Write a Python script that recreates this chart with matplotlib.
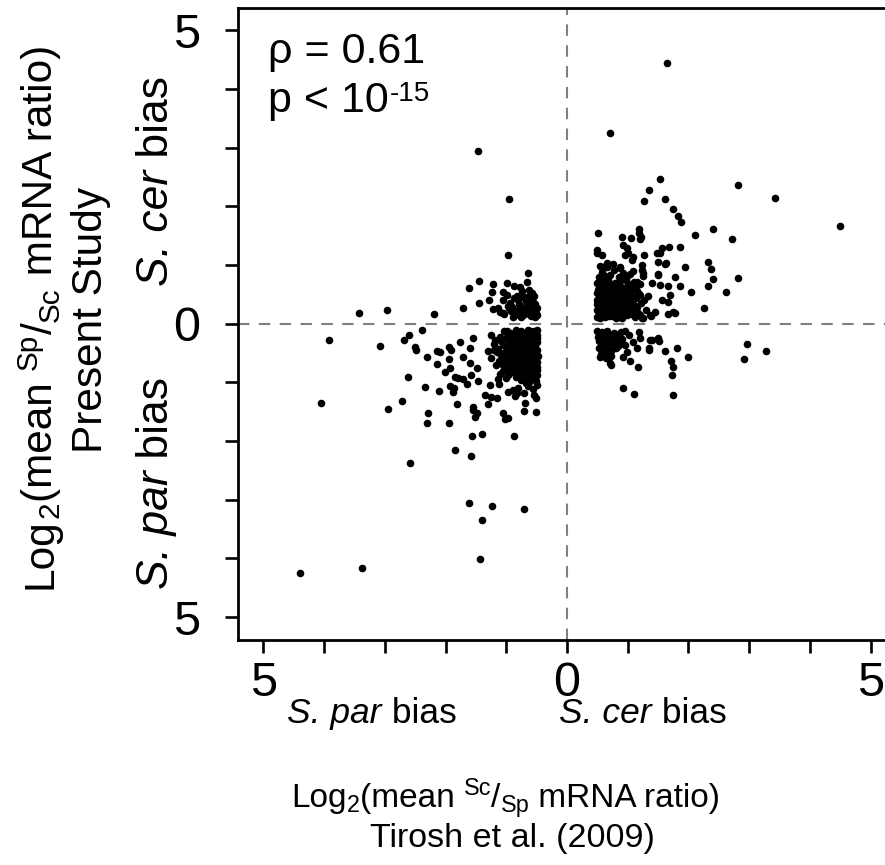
import numpy as np
import matplotlib.pyplot as plt

plt.rcParams['font.family'] = ['Liberation Sans', 'DejaVu Sans']

# (Tirosh log2 ratio, present study log2 ratio), grouped by region
upper_right = [
    (1.65, 4.44), (0.71, 3.25), (1.53, 2.46), (1.35, 2.27), (1.27, 2.09), (1.61, 2.12),
    (2.82, 2.36), (3.43, 2.14), (4.50, 1.66), (1.75, 1.95), (1.83, 1.83), (1.88, 1.73),
    (2.41, 1.61), (2.11, 1.51), (2.72, 1.44), (0.51, 1.54), (1.19, 1.61), (1.19, 1.54),
    (0.91, 1.47), (1.05, 1.46), (1.20, 1.44), (1.68, 1.30), (1.86, 1.30), (1.57, 1.29),
    (1.27, 1.17), (1.53, 1.20), (1.48, 1.20), (2.32, 1.06), (2.37, 0.93), (2.41, 0.76),
    (2.32, 0.64), (2.82, 0.78), (2.62, 0.54), (2.26, 0.26), (2.04, 0.54), (1.94, 0.96),
    (1.61, 1.01), (1.50, 1.06), (1.86, 0.64), (1.78, 0.79), (1.50, 0.84), (1.66, 0.64),
    (1.53, 0.66), (1.78, 0.18), (1.66, 0.16), (1.38, 0.13), (1.25, 0.10), (1.45, 0.20),
    (1.24, 0.91), (1.25, 0.81), (1.00, 1.20), (1.09, 1.13), (0.99, 1.29), (0.87, 0.96),
    (0.66, 1.03), (0.59, 0.96), (0.49, 1.25), (0.58, 1.17), (1.22, 1.47), (0.92, 1.34),
    (0.49, 1.20), (0.96, 1.17), (1.07, 1.08), (1.24, 1.00), (1.63, 1.03), (1.70, 0.49),
    (1.66, 0.37), (1.75, 0.20), (1.57, 0.40), (1.40, 0.69), (1.50, 0.83), (1.25, 0.86),
    (1.15, 0.71), (1.20, 0.49), (1.24, 0.09), (1.37, 0.14),
    (0.50, 0.12), (0.55, 0.15), (0.62, 0.11), (0.68, 0.18), (0.74, 0.13), (0.80, 0.16),
    (0.86, 0.12), (0.93, 0.19), (0.99, 0.14), (1.05, 0.17), (1.12, 0.12), (1.20, 0.15),
    (0.58, 0.20), (0.71, 0.22), (0.90, 0.10),
    (0.49, 0.24), (0.53, 0.30), (0.57, 0.22), (0.61, 0.33), (0.66, 0.27), (0.70, 0.21),
    (0.75, 0.31), (0.79, 0.25), (0.83, 0.34), (0.88, 0.23), (0.92, 0.29), (0.97, 0.26),
    (1.02, 0.32), (1.08, 0.22), (1.15, 0.28), (1.22, 0.35), (1.30, 0.24), (0.64, 0.36),
    (0.86, 0.20), (1.00, 0.38),
    (0.50, 0.40), (0.54, 0.46), (0.59, 0.38), (0.63, 0.49), (0.68, 0.42), (0.72, 0.37),
    (0.77, 0.47), (0.81, 0.41), (0.85, 0.45), (0.90, 0.39), (0.95, 0.48), (1.01, 0.43),
    (1.06, 0.36), (1.13, 0.44), (1.18, 0.50), (1.27, 0.41), (1.33, 0.47), (0.56, 0.52),
    (0.74, 0.55), (0.93, 0.53),
    (0.51, 0.58), (0.55, 0.66), (0.60, 0.61), (0.65, 0.56), (0.70, 0.69), (0.76, 0.62),
    (0.82, 0.57), (0.88, 0.65), (0.94, 0.60), (1.00, 0.68), (1.07, 0.59), (1.14, 0.64),
    (0.58, 0.72), (0.67, 0.75), (0.79, 0.70), (0.97, 0.74), (1.10, 0.71), (1.21, 0.67),
    (0.52, 0.80), (0.57, 0.88), (0.62, 0.77), (0.71, 0.83), (0.78, 0.92), (0.85, 0.79),
    (0.92, 0.86), (0.99, 0.81), (1.08, 0.90), (0.66, 0.97), (0.88, 0.95), (1.03, 0.85),
    (0.55, 0.99), (0.75, 1.02), (0.95, 0.78),
    (0.52, 0.18), (0.56, 0.34), (0.60, 0.45), (0.64, 0.15), (0.68, 0.53), (0.72, 0.29),
    (0.76, 0.42), (0.80, 0.10), (0.84, 0.63), (0.88, 0.49), (0.92, 0.17), (0.96, 0.34),
    (1.00, 0.57), (1.04, 0.24), (1.10, 0.46), (0.49, 0.52), (0.53, 0.63), (0.57, 0.44),
    (0.61, 0.70), (0.65, 0.39), (0.69, 0.13), (0.73, 0.66), (0.77, 0.20), (0.81, 0.51),
    (0.85, 0.28), (0.89, 0.74), (0.94, 0.43), (0.98, 0.22), (1.03, 0.51), (1.11, 0.32),
    (1.17, 0.19), (0.50, 0.33), (0.50, 0.70), (0.54, 0.10), (0.59, 0.27), (0.63, 0.82),
    (0.67, 0.61), (0.72, 0.48), (0.83, 0.14), (0.91, 0.58), (1.05, 0.62), (1.16, 0.55),
]

lower_right = [
    (2.97, -0.35), (3.28, -0.47), (2.92, -0.60), (1.99, -0.57), (1.81, -0.42), (1.61, -0.47),
    (1.71, -0.64), (1.75, -0.74), (1.73, -0.88), (1.75, -1.22), (1.10, -1.20), (0.92, -1.10),
    (1.17, -0.74), (1.04, -0.64), (1.15, -0.42), (1.35, -0.44), (1.52, -0.30), (1.37, -0.28),
    (1.19, -0.14), (1.20, -0.25), (0.71, -0.67), (0.73, -0.70), (0.54, -0.57), (0.63, -0.50),
    (0.92, -0.57), (0.99, -0.49), (1.50, -0.25), (1.40, -0.28), (1.35, -0.42), (0.58, -0.54),
    (0.50, -0.12), (0.54, -0.18), (0.58, -0.14), (0.62, -0.22), (0.66, -0.13), (0.70, -0.19),
    (0.74, -0.25), (0.78, -0.15), (0.82, -0.21), (0.86, -0.17), (0.91, -0.26), (0.96, -0.13),
    (1.02, -0.20), (0.52, -0.29), (0.57, -0.33), (0.63, -0.27), (0.69, -0.36), (0.76, -0.31),
    (0.84, -0.38), (0.53, -0.41), (0.60, -0.45), (0.67, -0.39), (0.73, -0.47), (0.80, -0.42),
    (0.88, -0.35), (0.56, -0.52), (0.64, -0.58), (0.72, -0.55), (0.95, -0.37), (1.08, -0.31),
    (0.51, -0.22), (0.55, -0.25), (0.60, -0.16), (0.65, -0.31), (0.70, -0.42), (0.77, -0.22),
    (0.83, -0.29), (0.89, -0.14), (0.60, -0.37), (0.68, -0.49),
]

upper_left = [
    (-1.47, 2.95), (-0.96, 2.12),
    (-0.97, 1.17), (-0.64, 0.86), (-1.45, 0.72), (-1.61, 0.60), (-1.22, 0.67), (-0.99, 0.69),
    (-0.87, 0.64), (-0.77, 0.62), (-0.66, 0.71), (-1.24, 0.54), (-1.05, 0.54), (-0.58, 0.52),
    (-1.29, 0.40), (-1.45, 0.35), (-1.71, 0.26), (-1.22, 0.25), (-1.05, 0.40), (-0.94, 0.35),
    (-0.81, 0.40), (-0.72, 0.45), (-0.56, 0.37), (-0.49, 0.26), (-0.61, 0.20), (-0.72, 0.14),
    (-0.89, 0.11), (-1.05, 0.18), (-1.14, 0.26), (-0.77, 0.26), (-0.53, 0.11), (-0.99, 0.49),
    (-0.64, 0.31), (-3.43, 0.18), (-2.97, 0.23), (-2.19, 0.16),
    (-0.50, 0.15), (-0.55, 0.22), (-0.60, 0.13), (-0.66, 0.19), (-0.70, 0.28), (-0.75, 0.17),
    (-0.80, 0.24), (-0.86, 0.14), (-0.92, 0.21), (-0.98, 0.30), (-1.03, 0.16), (-1.10, 0.20),
    (-0.52, 0.33), (-0.58, 0.42), (-0.68, 0.38), (-0.83, 0.48), (-0.95, 0.27), (-0.62, 0.57),
    (-0.74, 0.55), (-0.88, 0.44),
    (-0.51, 0.19), (-0.57, 0.29), (-0.63, 0.16), (-0.69, 0.23), (-0.79, 0.33), (-0.85, 0.20),
    (-0.90, 0.29), (-0.54, 0.47), (-0.66, 0.46), (-0.76, 0.12),
]

lower_left = [
    (-3.92, -0.28), (-3.08, -0.38), (-2.69, -0.28), (-2.60, -0.20), (-2.39, -0.11), (-2.50, -0.40),
    (-2.49, -0.45), (-2.62, -0.91), (-4.05, -1.35), (-2.95, -1.46), (-2.72, -1.32), (-2.34, -1.08),
    (-2.31, -0.57), (-2.14, -0.47), (-2.09, -0.49), (-2.14, -0.69), (-2.29, -1.52), (-2.31, -1.70),
    (-2.11, -1.15), (-1.94, -0.60), (-1.94, -0.40), (-1.91, -0.45), (-2.01, -0.83), (-1.93, -0.76),
    (-1.93, -1.06), (-1.94, -1.70), (-1.88, -1.17), (-1.85, -0.91), (-1.81, -1.36), (-1.85, -2.16),
    (-2.59, -2.38), (-1.57, -1.92), (-1.40, -1.88), (-1.58, -2.26), (-0.87, -1.92), (-1.55, -1.47),
    (-1.48, -1.52), (-1.52, -1.59), (-1.30, -1.36), (-1.25, -1.25), (-1.35, -1.22), (-1.15, -1.27),
    (-1.05, -1.52), (-1.02, -1.63), (-0.97, -1.61), (-0.69, -1.35), (-0.51, -1.27), (-0.71, -1.49),
    (-0.51, -1.51), (-1.65, -1.03), (-1.71, -0.95), (-1.80, -0.93), (-1.58, -0.88), (-1.47, -0.98),
    (-1.48, -0.76), (-1.60, -0.67), (-1.71, -0.57), (-1.76, -0.32), (-1.55, -0.25), (-1.60, -0.42),
    (-1.86, -1.10), (-1.27, -1.05), (-1.12, -1.02), (-0.97, -1.17), (-0.82, -1.18), (-4.40, -4.25),
    (-3.38, -4.17), (-1.43, -4.01), (-1.61, -3.06), (-1.24, -3.11), (-0.71, -3.16), (-1.40, -3.35),
    (-1.55, -1.42),
    (-0.49, -0.11), (-0.52, -0.16), (-0.55, -0.12), (-0.59, -0.20), (-0.63, -0.14), (-0.67, -0.23),
    (-0.71, -0.17), (-0.76, -0.12), (-0.81, -0.21), (-0.86, -0.15), (-0.91, -0.24), (-0.97, -0.18),
    (-1.03, -0.13), (-1.10, -0.22), (-1.18, -0.27), (-1.26, -0.19), (-0.50, -0.25), (-0.57, -0.26),
    (-0.65, -0.10), (-0.74, -0.28), (-0.84, -0.11), (-0.95, -0.30),
    (-0.49, -0.32), (-0.53, -0.38), (-0.56, -0.45), (-0.61, -0.35), (-0.64, -0.42), (-0.69, -0.31),
    (-0.73, -0.48), (-0.78, -0.36), (-0.83, -0.44), (-0.88, -0.33), (-0.93, -0.40), (-0.99, -0.47),
    (-1.06, -0.37), (-1.13, -0.43), (-1.21, -0.34), (-1.30, -0.46), (-0.51, -0.49), (-0.60, -0.29),
    (-0.70, -0.40), (-0.80, -0.50), (-0.90, -0.30), (-1.01, -0.39), (-1.16, -0.48),
    (-0.48, -0.55), (-0.52, -0.62), (-0.57, -0.52), (-0.62, -0.69), (-0.66, -0.58), (-0.71, -0.64),
    (-0.75, -0.53), (-0.80, -0.71), (-0.85, -0.60), (-0.91, -0.56), (-0.96, -0.67), (-1.02, -0.62),
    (-1.09, -0.54), (-1.17, -0.70), (-1.25, -0.59), (-0.50, -0.73), (-0.59, -0.74), (-0.68, -0.51),
    (-0.77, -0.66), (-0.87, -0.75), (-0.98, -0.57), (-1.12, -0.63),
    (-0.49, -0.79), (-0.54, -0.86), (-0.60, -0.81), (-0.65, -0.93), (-0.72, -0.84), (-0.78, -0.78),
    (-0.84, -0.91), (-0.90, -0.83), (-0.97, -0.88), (-1.05, -0.80), (-1.14, -0.95), (-0.51, -0.98),
    (-0.63, -0.99), (-0.75, -0.96), (-0.88, -0.77), (-1.00, -0.92),
    (-0.50, -1.04), (-0.56, -1.12), (-0.64, -1.06), (-0.71, -1.18), (-0.80, -1.09), (-0.89, -1.13),
    (-0.55, -1.22), (-0.68, -1.01), (-0.85, -1.24),
    (-0.50, -0.20), (-0.54, -0.29), (-0.58, -0.37), (-0.62, -0.47), (-0.66, -0.33), (-0.70, -0.56),
    (-0.74, -0.21), (-0.78, -0.60), (-0.82, -0.28), (-0.86, -0.52), (-0.90, -0.68), (-0.94, -0.15),
    (-0.98, -0.76), (-1.04, -0.50), (-1.08, -0.29), (-0.52, -0.70), (-0.56, -0.64), (-0.60, -0.57),
    (-0.64, -0.78), (-0.68, -0.88), (-0.72, -0.72), (-0.76, -0.44), (-0.80, -0.86), (-0.84, -0.67),
    (-0.88, -0.58), (-0.92, -0.49), (-0.96, -0.36), (-1.00, -0.25), (-0.49, -0.44), (-0.49, -0.66),
    (-0.50, -0.87), (-0.53, -0.94), (-0.58, -0.90), (-0.61, -0.13), (-0.66, -0.49), (-0.69, -0.72),
    (-0.73, -0.62), (-0.79, -0.26), (-0.83, -0.80), (-0.87, -0.41), (-0.93, -0.62), (-0.99, -0.12),
    (-1.06, -0.70), (-1.11, -0.85), (-1.20, -0.45),
]

rho_text = 'ρ = 0.61'
p_text = 'p < 10'
p_exp = '-15'
par_label = [('S. par', 'italic'), (' bias', 'normal')]
cer_label = [('S. cer', 'italic'), (' bias', 'normal')]
x_title = ['Log', '2', '(mean ', 'Sc', '/', 'Sp', ' mRNA ratio)']
y_title = ['Log', '2', '(mean ', 'Sp', '/', 'Sc', ' mRNA ratio)']
tick_vals = [-5, -4, -3, -2, -1, 0, 1, 2, 3, 4, 5]
tick_labels = ['5', '', '', '', '', '0', '', '', '', '', '5']

pts = np.array(upper_right + lower_right + upper_left + lower_left)

W, H = 885, 865
fig = plt.figure(figsize=(W / 100, H / 100), dpi=100)
ax = fig.add_axes([238 / W, 225 / H, 658 / W, 632 / H])

ax.axhline(0, color='#808080', lw=1.5, ls=(0, (5.5, 4.5)), zorder=1)
ax.axvline(0, color='#808080', lw=1.5, ls=(0, (5.5, 4.5)), zorder=1)
ax.scatter(pts[:, 0], pts[:, 1], s=30, c='black', linewidths=0, zorder=3)

ax.set_xlim(-5.42, 5.42)
ax.set_ylim(-5.39, 5.38)
ax.set_xticks(tick_vals)
ax.set_xticklabels(tick_labels)
ax.set_yticks(tick_vals)
ax.set_yticklabels(tick_labels)
ax.tick_params(axis='both', length=9.4, width=1.9, labelsize=35, color='black')
ax.tick_params(axis='x', pad=6)
ax.tick_params(axis='y', pad=18)
for sp in ax.spines.values():
    sp.set_linewidth(2.0)

ax.text(-4.93, 4.44, rho_text, fontsize=31, va='baseline', ha='left')
pt = ax.text(-4.93, 3.60, p_text, fontsize=31, va='baseline', ha='left')
fig.canvas.draw()
renderer = fig.canvas.get_renderer()
x_end = ax.transData.inverted().transform((pt.get_window_extent(renderer).x1, 0))[0]
ax.text(x_end + 0.02, 3.80, p_exp, fontsize=20, va='baseline', ha='left')


def run_label(cx, base, parts, vertical=False):
    # parts: (text, fontsize, style, baseline shift in px); cx centre along the run,
    # base: baseline position, both in image px from the top-left corner
    texts = [fig.text(0, 0, s, fontsize=fs, fontstyle=st, rotation=90 if vertical else 0,
                      rotation_mode='anchor', ha='left', va='baseline') for s, fs, st, _ in parts]
    sizes = []
    for t in texts:
        bb = t.get_window_extent(renderer)
        sizes.append(bb.height if vertical else bb.width)
    pos = cx - sum(sizes) / 2
    for t, L, p in zip(texts, sizes, parts):
        shift = p[3]
        if vertical:
            t.set_position(((base - shift) / W, pos / H))
        else:
            t.set_position((pos / W, 1 - (base - shift) / H))
        pos += L


def title_parts(words, size):
    small = size * 0.7
    return [(words[0], size, 'normal', 0), (words[1], small, 'normal', -0.22 * size),
            (words[2], size, 'normal', 0), (words[3], small, 'normal', 0.5 * size),
            (words[4], size, 'normal', 0), (words[5], small, 'normal', -0.22 * size),
            (words[6], size, 'normal', 0)]


run_label(372, 723, [(s, 25.5, st, 0) for s, st in par_label])
run_label(643, 723, [(s, 25.5, st, 0) for s, st in cer_label])
run_label(H - 181, 168, [(s, 32, st, 0) for s, st in cer_label], vertical=True)
run_label(H - 483, 168, [(s, 32, st, 0) for s, st in par_label], vertical=True)

# axis titles
run_label(506, 807, title_parts(x_title, 24))
fig.text(512 / W, 1 - 847 / H, 'Tirosh et al. (2009)', fontsize=24.5, ha='center', va='baseline')
run_label(H - 317, 52, title_parts(y_title, 30.5), vertical=True)
fig.text(102 / W, 1 - 320 / H, 'Present Study', fontsize=30.5, rotation=90,
         rotation_mode='anchor', ha='center', va='baseline')

fig.savefig('out.png', dpi=100)
